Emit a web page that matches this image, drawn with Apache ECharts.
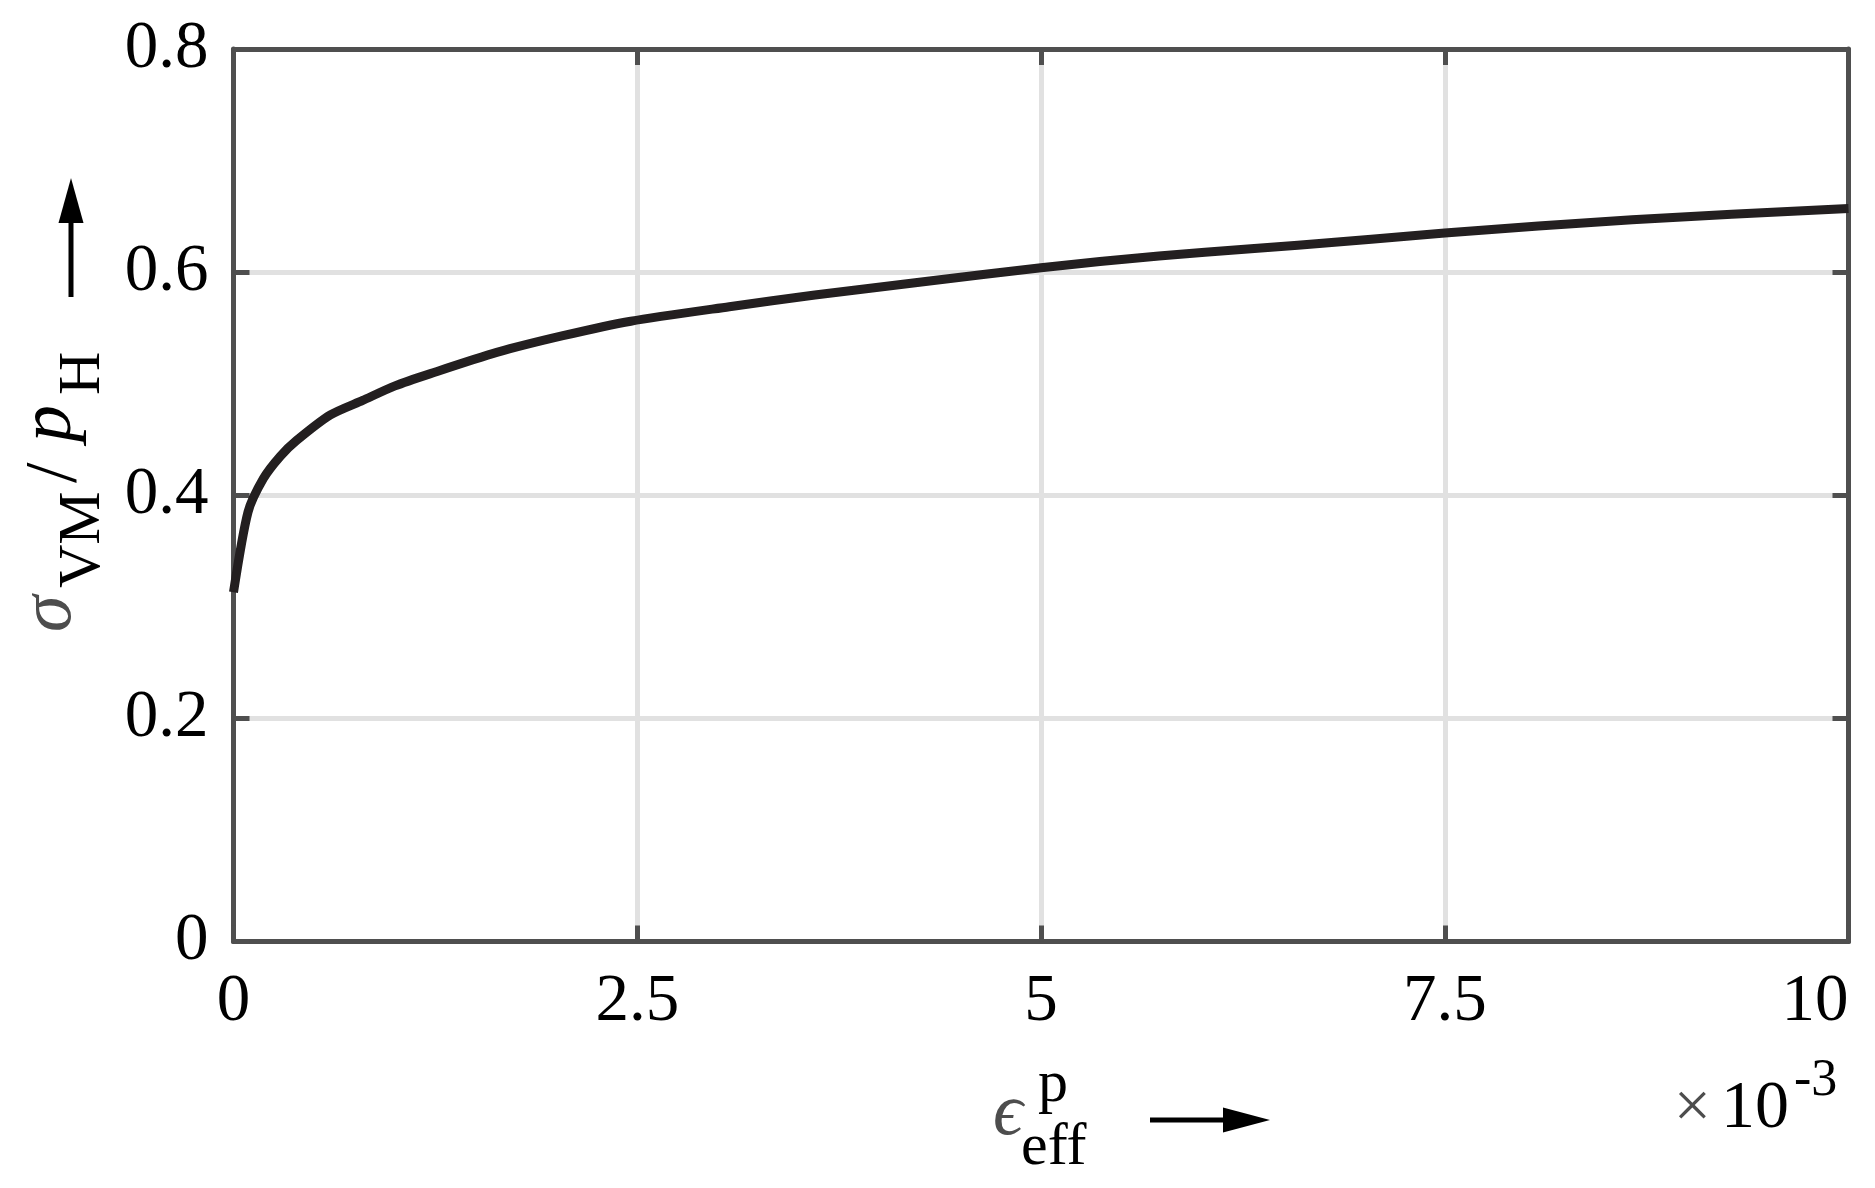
<!DOCTYPE html>
<html>
<head>
<meta charset="utf-8">
<script src="https://cdn.jsdelivr.net/npm/echarts@6/dist/echarts.min.js"></script>
<style>
html,body{margin:0;padding:0;background:#fff;}
#c{width:1875px;height:1188px;}
</style>
</head>
<body>
<div id="c"></div>
<script>
// Effective plastic strain (x 10^-3)
var strain = [0, 0.09, 0.185, 0.29, 0.39, 0.6, 0.8, 1.0, 1.22, 1.63, 2.04, 2.46, 3.07, 3.6, 4.31, 5.0, 5.73, 6.3, 6.59, 7.5, 8.66, 10];
// Normalized von Mises stress sigma_VM / p_H
var stress = [0.313, 0.385, 0.415, 0.435, 0.449, 0.472, 0.485, 0.498, 0.509, 0.528, 0.543, 0.556, 0.569, 0.5795, 0.592, 0.604, 0.6145, 0.621, 0.624, 0.635, 0.647, 0.657];
var xTicks = [0, 2.5, 5, 7.5, 10];
var yTicks = [0, 0.2, 0.4, 0.6, 0.8];

var AX = '#4f4f4f';
var SERIF = '"Liberation Serif","DejaVu Serif",serif';
var data = strain.map(function (x, i) { return [x, stress[i]]; });

var chart = echarts.init(document.getElementById('c'), null, {renderer: 'canvas'});

function baseAxis(extra) {
  var a = {
    type: 'value',
    axisLine: {show: true, onZero: false, lineStyle: {color: AX, width: 5}},
    axisTick: {show: true, inside: true, length: 16, lineStyle: {color: AX, width: 5}},
    splitLine: {show: false},
    axisLabel: {show: false}
  };
  for (var k in extra) a[k] = extra[k];
  return a;
}

var option = {
  backgroundColor: '#ffffff',
  animation: false,
  grid: {left: 233.5, right: 26.5, top: 49, bottom: 246.5, containLabel: false},
  xAxis: [
    baseAxis({
      min: xTicks[0], max: xTicks[xTicks.length - 1], interval: xTicks[1] - xTicks[0], position: 'bottom',
      splitLine: {show: true, lineStyle: {color: '#e1e1e1', width: 5}},
      axisLabel: {show: true, color: '#000', fontFamily: SERIF, fontSize: 67, margin: 27,
        alignMinLabel: 'center', alignMaxLabel: 'right'}
    }),
    baseAxis({min: xTicks[0], max: xTicks[xTicks.length - 1], interval: xTicks[1] - xTicks[0], position: 'top'})
  ],
  yAxis: [
    baseAxis({
      min: yTicks[0], max: yTicks[yTicks.length - 1], interval: yTicks[1] - yTicks[0], position: 'left',
      splitLine: {show: true, lineStyle: {color: '#e1e1e1', width: 5}},
      axisLabel: {show: true, color: '#000', fontFamily: SERIF, fontSize: 67, margin: 25,
        formatter: function (v) { return v === 0 ? '0' : v.toFixed(1); }}
    }),
    baseAxis({min: yTicks[0], max: yTicks[yTicks.length - 1], interval: yTicks[1] - yTicks[0], position: 'right'})
  ],
  series: [{
    type: 'line',
    data: data,
    xAxisIndex: 0, yAxisIndex: 0,
    showSymbol: false,
    smooth: 0.25,
    lineStyle: {color: '#231f20', width: 9, join: 'round'},
    z: 3
  }],
  graphic: [
    // x-axis label: epsilon_eff^p  ->
    {type: 'text', x: 993, y: 1137 - 0.305 * 74, style: {text: '\u03F5', font: 'italic 74px ' + SERIF, fill: '#4d4d4d', textAlign: 'left', textVerticalAlign: 'middle'}},
    {type: 'text', x: 1038, y: 1104 - 0.305 * 60, style: {text: 'p', font: '60px ' + SERIF, fill: '#000', textAlign: 'left', textVerticalAlign: 'middle'}},
    {type: 'text', x: 1021, y: 1167 - 0.305 * 60, style: {text: 'eff', font: '60px ' + SERIF, fill: '#000', textAlign: 'left', textVerticalAlign: 'middle'}},
    {type: 'line', shape: {x1: 1150, y1: 1120, x2: 1226, y2: 1120}, style: {stroke: '#000', lineWidth: 5}},
    {type: 'polygon', shape: {points: [[1270, 1120], [1223, 1107.5], [1223, 1132.5]]}, style: {fill: '#000'}},
    // exponent  x10^-3
    {type: 'text', x: 1711, y: 1130 - 0.305 * 66, style: {text: '\u00D7', font: '66px ' + SERIF, fill: '#4d4d4d', textAlign: 'right', textVerticalAlign: 'middle'}},
    {type: 'text', x: 1789, y: 1130 - 0.305 * 68, style: {text: '10', font: '68px ' + SERIF, fill: '#000', textAlign: 'right', textVerticalAlign: 'middle'}},
    {type: 'text', x: 1794, y: 1097 - 0.305 * 52, style: {text: '-3', font: '52px ' + SERIF, fill: '#000', textAlign: 'left', textVerticalAlign: 'middle'}},
    // y-axis label: sigma_VM / p_H  -> (rotated)
    {type: 'text', x: 73 - 0.305 * 74, y: 632, rotation: Math.PI / 2, style: {text: '\u03C3', font: 'italic 74px ' + SERIF, fill: '#4d4d4d', textAlign: 'left', textVerticalAlign: 'middle'}},
    {type: 'text', x: 102 - 0.305 * 60, y: 588, rotation: Math.PI / 2, style: {text: 'VM', font: '60px ' + SERIF, fill: '#000', textAlign: 'left', textVerticalAlign: 'middle'}},
    {type: 'text', x: 79 - 0.305 * 74, y: 483, rotation: Math.PI / 2, style: {text: '/', font: '74px ' + SERIF, fill: '#000', textAlign: 'left', textVerticalAlign: 'middle'}},
    {type: 'text', x: 73 - 0.305 * 74, y: 442, rotation: Math.PI / 2, style: {text: 'p', font: 'italic 74px ' + SERIF, fill: '#000', textAlign: 'left', textVerticalAlign: 'middle'}},
    {type: 'text', x: 102 - 0.305 * 60, y: 395, rotation: Math.PI / 2, style: {text: 'H', font: '60px ' + SERIF, fill: '#000', textAlign: 'left', textVerticalAlign: 'middle'}},
    {type: 'line', shape: {x1: 71, y1: 297, x2: 71, y2: 220}, style: {stroke: '#000', lineWidth: 5}},
    {type: 'polygon', shape: {points: [[71, 178], [58.5, 223], [83.5, 223]]}, style: {fill: '#000'}}
  ]
};
chart.setOption(option);
</script>
</body>
</html>
